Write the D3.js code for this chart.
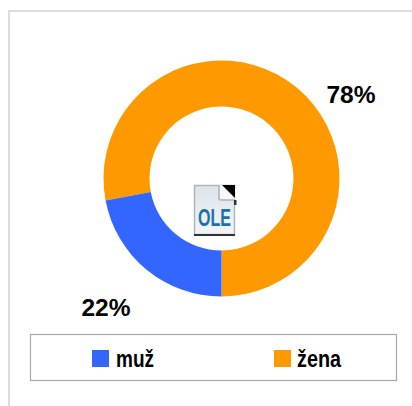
<!DOCTYPE html>
<html><head><meta charset="utf-8">
<script src="https://cdn.jsdelivr.net/npm/d3@7"></script>
<style>html,body{margin:0;padding:0;background:#fff;overflow:hidden}svg{display:block}text{font-family:"Liberation Sans",Arial,sans-serif;font-weight:bold;fill:#000}</style>
</head><body><svg id="c" width="412" height="406"></svg>
<script>
const categories = ["žena", "muž"];
const values = [78, 22];
const colors = ["#ff9900", "#3366ff"];
const labels = ["78%", "22%"];
const legendOrder = ["muž", "žena"];
const legendWidths = [38, 44];

const svg = d3.select("#c");
svg.append("path").attr("d","M9,406V11H412").attr("fill","none").attr("stroke","#dcdcdc").attr("stroke-width",2);

const color = d3.scaleOrdinal(categories, colors);
const cx = 221.5, cy = 178.5;
const start = 2 * Math.PI * 0.72;
const pie = d3.pie().sort(null).value(d=>d).startAngle(start).endAngle(start + 2 * Math.PI);
const arc = d3.arc().innerRadius(72).outerRadius(118);
const g = svg.append("g").attr("transform",`translate(${cx},${cy})`);
g.selectAll("path").data(pie(values)).join("path")
  .attr("d",arc).attr("fill",(d,i)=>color(categories[i]));

const labelPos = [[351,103],[106,316]];
svg.selectAll("text.lab").data(labels).join("text").attr("class","lab")
  .attr("x",(d,i)=>labelPos[i][0]).attr("y",(d,i)=>labelPos[i][1])
  .attr("text-anchor","middle").attr("font-size",24.5).text(d=>d);

// legend
svg.append("rect").attr("x",30.5).attr("y",334.5).attr("width",366).attr("height",46)
  .attr("fill","#fff").attr("stroke","#a8a8a8").attr("stroke-width",1.2);
const legendX = d3.scalePoint().domain(legendOrder).range([92,274]);
const lg = svg.selectAll("g.lg").data(legendOrder).join("g").attr("class","lg")
  .attr("transform",d=>`translate(${legendX(d)},350)`);
lg.append("rect").attr("width",17).attr("height",17).attr("fill",d=>color(d));
lg.append("text").attr("x",d=>d==="muž"?24:23).attr("y",17).attr("font-size",23)
  .attr("textLength",(d,i)=>legendWidths[i]).attr("lengthAdjust","spacingAndGlyphs").text(d=>d);

// OLE icon
const ic = svg.append("g").attr("transform","translate(194,185)");
const grad = svg.append("defs").append("linearGradient").attr("id","pg").attr("x1",0).attr("y1",0).attr("x2",0).attr("y2",1);
grad.append("stop").attr("offset",0).attr("stop-color","#dce4ea");
grad.append("stop").attr("offset",1).attr("stop-color","#f2f5f7");
ic.append("rect").attr("x",0.5).attr("y",0.5).attr("width",40).attr("height",49).attr("fill","url(#pg)").attr("stroke","#aeb6bd").attr("stroke-width",1.5);
ic.append("rect").attr("x",0).attr("y",49).attr("width",41).attr("height",2).attr("fill","#333");
ic.append("path").attr("d","M25,0V15H41V0Z").attr("fill","#f6f8f9");
ic.append("path").attr("d","M25,0V13Q25,15 27,15H41").attr("fill","none").attr("stroke","#a9b2ba").attr("stroke-width",1.5);
ic.append("path").attr("d","M28,0H41V13Z").attr("fill","#000");
ic.append("rect").attr("x",40).attr("y",15).attr("width",2.5).attr("height",5).attr("fill","#333");
ic.append("text").attr("x",20.5).attr("y",41).attr("text-anchor","middle").attr("font-size",23)
  .attr("textLength",33).attr("lengthAdjust","spacingAndGlyphs").style("fill","#1f6ea8").text("OLE");
</script></body></html>
